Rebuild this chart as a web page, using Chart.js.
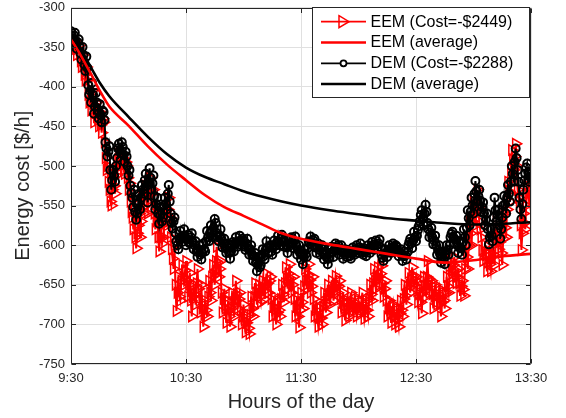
<!DOCTYPE html>
<html>
<head>
<meta charset="utf-8">
<script src="https://cdn.jsdelivr.net/npm/chart.js@4/dist/chart.umd.min.js"></script>
<style>
html,body{margin:0;padding:0;background:#fff;}
#wrap{width:566px;height:418px;position:relative;}
</style>
</head>
<body>
<div id="wrap"><canvas id="c" width="566" height="418"></canvas></div>
<script>
// ---- data (one value every half minute from 9:30 to 13:30) ----
const xTickLabels = ['9:30', '10:30', '11:30', '12:30', '13:30'];
const seriesNames = ['EEM (Cost=-$2449)', 'EEM (average)', 'DEM (Cost=-$2288)', 'DEM (average)'];

const eemCost = [
 -338,-345,-350,-344,-342,-352,-360,-352,-348,-358,-368,-375,-360,-372,-385,-392,-375,-392,-410,-420,
 -418,-430,-405,-422,-445,-432,-420,-435,-442,-450,-432,-448,-458,-440,-445,-470,-490,-505,-500,-520,
 -530,-545,-550,-530,-515,-525,-535,-512,-500,-492,-485,-495,-500,-485,-490,-505,-510,-495,-500,-515,
 -530,-522,-545,-558,-565,-580,-555,-590,-604,-585,-575,-560,-590,-570,-540,-552,-560,-535,-525,-545,
 -560,-535,-515,-530,-545,-535,-530,-560,-580,-570,-560,-590,-608,-590,-575,-598,-590,-570,-560,-572,
 -575,-555,-540,-565,-590,-605,-617,-630,-600,-650,-683,-660,-640,-665,-670,-645,-625,-640,-650,-632,
 -620,-645,-665,-650,-635,-670,-690,-665,-650,-662,-675,-648,-630,-655,-670,-685,-650,-680,-703,-688,
 -670,-682,-690,-665,-645,-660,-670,-640,-625,-638,-650,-620,-602,-622,-640,-630,-620,-660,-685,-668,
 -655,-680,-698,-682,-670,-690,-703,-680,-660,-675,-690,-665,-645,-662,-680,-668,-660,-682,-700,-690,
 -675,-695,-710,-698,-690,-705,-712,-688,-665,-680,-690,-665,-648,-660,-675,-660,-650,-665,-672,-655,
 -645,-658,-668,-650,-636,-648,-660,-645,-640,-668,-690,-678,-665,-688,-700,-685,-670,-682,-690,-668,
 -650,-662,-672,-648,-628,-642,-655,-636,-624,-642,-660,-650,-640,-668,-690,-678,-665,-690,-704,-682,
 -660,-672,-680,-652,-630,-645,-655,-638,-624,-644,-660,-652,-640,-668,-690,-682,-670,-690,-703,-692,
 -680,-692,-700,-678,-660,-675,-685,-664,-650,-664,-675,-658,-645,-660,-670,-652,-639,-650,-660,-652,
 -645,-668,-685,-672,-660,-680,-695,-682,-670,-682,-690,-674,-660,-675,-684,-672,-665,-680,-690,-678,
 -670,-680,-685,-670,-660,-680,-693,-682,-670,-682,-690,-668,-650,-662,-670,-648,-630,-645,-655,-640,
 -628,-640,-650,-636,-626,-648,-665,-655,-645,-670,-690,-680,-670,-686,-698,-684,-675,-690,-700,-690,
 -680,-694,-703,-686,-670,-682,-690,-668,-650,-664,-675,-652,-635,-650,-660,-642,-628,-640,-650,-645,
 -640,-658,-672,-662,-655,-672,-686,-660,-640,-652,-665,-640,-620,-642,-660,-650,-645,-662,-680,-665,
 -650,-664,-675,-662,-655,-674,-690,-672,-660,-670,-680,-660,-640,-652,-660,-638,-620,-632,-640,-625,
 -615,-632,-648,-640,-630,-648,-664,-652,-645,-656,-664,-630,-600,-615,-630,-600,-571,-585,-600,-570,
 -545,-560,-575,-550,-530,-552,-570,-580,-590,-606,-620,-608,-600,-618,-633,-622,-610,-624,-633,-615,
 -600,-612,-625,-598,-570,-588,-605,-596,-590,-610,-625,-592,-560,-578,-590,-555,-520,-532,-545,-510,
 -480,-492,-505,-488,-472,-500,-530,-540,-545,-575,-606,-585,-560,-572,-580,-550,-525,-535,-545,-530,
 -521
];

const demCost = [
 -330,-336,-342,-335,-332,-345,-352,-344,-340,-350,-358,-366,-350,-360,-372,-380,-362,-376,-398,-410,
 -405,-420,-395,-410,-434,-425,-408,-420,-430,-440,-422,-436,-445,-430,-432,-442,-470,-478,-488,-482,
 -475,-505,-530,-518,-505,-512,-520,-500,-490,-478,-472,-480,-484,-470,-476,-486,-495,-482,-488,-500,
 -512,-505,-525,-534,-540,-552,-530,-558,-568,-560,-548,-535,-555,-540,-524,-530,-535,-518,-510,-525,
 -546,-520,-503,-515,-530,-522,-512,-538,-555,-548,-540,-560,-573,-562,-552,-570,-565,-550,-540,-548,
 -555,-535,-524,-545,-560,-572,-579,-570,-565,-585,-595,-600,-605,-592,-582,-590,-596,-588,-580,-592,
 -600,-592,-587,-596,-598,-590,-585,-596,-605,-600,-595,-608,-615,-606,-600,-612,-618,-610,-598,-605,
 -608,-595,-582,-590,-595,-585,-575,-582,-590,-578,-567,-572,-585,-590,-595,-588,-580,-592,-603,-598,
 -592,-604,-610,-602,-598,-610,-617,-608,-600,-596,-608,-598,-590,-597,-602,-595,-588,-594,-600,-592,
 -595,-602,-606,-598,-592,-604,-612,-605,-600,-612,-620,-614,-610,-622,-633,-625,-615,-628,-625,-612,
 -605,-614,-618,-606,-595,-603,-610,-602,-600,-608,-612,-600,-594,-601,-605,-596,-588,-597,-600,-592,
 -587,-595,-602,-596,-592,-603,-610,-602,-598,-592,-590,-598,-604,-595,-589,-600,-612,-606,-600,-610,
 -618,-612,-624,-615,-605,-611,-615,-604,-595,-598,-589,-596,-600,-594,-592,-603,-610,-602,-598,-606,
 -612,-604,-600,-610,-618,-612,-608,-616,-624,-617,-610,-605,-602,-609,-615,-606,-598,-603,-606,-600,
 -612,-605,-600,-609,-617,-610,-605,-612,-615,-606,-608,-614,-617,-610,-603,-609,-612,-605,-600,-606,
 -610,-603,-598,-604,-608,-612,-604,-609,-614,-606,-600,-606,-610,-602,-596,-601,-606,-599,-594,-600,
 -604,-598,-593,-603,-612,-616,-620,-611,-605,-610,-615,-607,-600,-605,-610,-603,-598,-602,-606,-600,
 -602,-608,-614,-609,-605,-612,-620,-614,-608,-613,-618,-609,-600,-596,-592,-598,-604,-594,-583,-590,
 -595,-588,-581,-576,-570,-562,-556,-566,-575,-560,-549,-558,-572,-580,-590,-584,-578,-590,-599,-594,
 -588,-600,-612,-606,-600,-611,-622,-616,-610,-618,-624,-612,-600,-606,-612,-600,-590,-586,-583,-590,
 -598,-593,-588,-600,-610,-603,-595,-604,-612,-596,-580,-590,-600,-578,-556,-566,-575,-558,-540,-550,
 -560,-535,-519,-532,-545,-538,-530,-544,-558,-552,-546,-560,-575,-568,-560,-580,-599,-590,-580,-588,
 -595,-565,-540,-556,-570,-562,-555,-575,-592,-580,-565,-550,-538,-548,-560,-540,-524,-535,-545,-520,
 -500,-510,-520,-495,-478,-490,-505,-520,-540,-555,-567,-548,-530,-518,-510,-502,-497,-508,-520,-514,
 -510
];

const avgMinutes = [0, 5, 10, 15, 20, 30, 40, 50, 60, 70, 80, 90, 100, 110, 120, 135, 150, 165, 180, 195, 210, 225, 240];
const eemAverage = [-340,-360,-382,-405,-425,-449,-475,-498,-518,-537,-552,-563,-574,-585,-592,-599,-605,-611,-617,-622,-619,-614,-611];
const demAverage = [-335,-352,-374,-395,-412,-438,-463,-485,-502,-514,-523,-532,-539,-545,-550,-556,-561,-566,-569,-572,-574,-573,-571];

const yMin = -750, yMax = -300, yStep = 50;

// ---- chart ----
const FONT = "'Liberation Sans', Arial, Helvetica, sans-serif";
const AXIS_COLOR = '#262626';
Chart.defaults.font.family = FONT;

const toPts = arr => arr.map((v, i) => ({x: i / 2, y: v}));
const toAvg = arr => avgMinutes.map((m, i) => ({x: m, y: arr[i]}));

const boxPlugin = {
  id: 'matlabBox',
  afterDraw(chart) {
    const ctx = chart.ctx;
    const {left, right, top, bottom} = chart.chartArea;
    ctx.save();
    ctx.strokeStyle = AXIS_COLOR;
    ctx.lineWidth = 1;
    const L = Math.round(left) + 0.5, R = Math.round(right) - 0.5;
    const T = Math.round(top) + 0.5, B = Math.round(bottom) - 0.5;
    ctx.beginPath();
    ctx.rect(L, T, R - L, B - T);
    ctx.stroke();
    // inward ticks
    const tl = 4.5;
    ctx.beginPath();
    chart.scales.x.ticks.forEach(t => {
      const px = Math.round(chart.scales.x.getPixelForValue(t.value)) + 0.5;
      ctx.moveTo(px, B); ctx.lineTo(px, B - tl);
      ctx.moveTo(px, T); ctx.lineTo(px, T + tl);
    });
    chart.scales.y.ticks.forEach(t => {
      const py = Math.round(chart.scales.y.getPixelForValue(t.value)) + 0.5;
      ctx.moveTo(L, py); ctx.lineTo(L + tl, py);
      ctx.moveTo(R, py); ctx.lineTo(R - tl, py);
    });
    ctx.stroke();

    // legend
    const bx = 312.5, by = 7.5, bw = 217, bh = 90;
    ctx.fillStyle = '#ffffff';
    ctx.fillRect(bx, by, bw, bh);
    ctx.strokeStyle = AXIS_COLOR;
    ctx.lineWidth = 1;
    ctx.strokeRect(bx, by, bw, bh);
    const rows = [21.7, 42.5, 63.3, 84];
    const styles = [
      {color: '#ff0000', width: 1.8, marker: 'tri'},
      {color: '#ff0000', width: 2.6, marker: null},
      {color: '#000000', width: 1.8, marker: 'circ'},
      {color: '#000000', width: 2.6, marker: null}
    ];
    ctx.font = '16px ' + FONT;
    ctx.textBaseline = 'middle';
    ctx.textAlign = 'left';
    rows.forEach((ry, i) => {
      const s = styles[i];
      ctx.strokeStyle = s.color;
      ctx.lineWidth = s.width;
      ctx.beginPath();
      ctx.moveTo(321, ry); ctx.lineTo(366, ry);
      ctx.stroke();
      const cx = 343.5;
      if (s.marker === 'tri') {
        ctx.lineWidth = 1.5;
        ctx.beginPath();
        ctx.moveTo(cx - 4.5, ry - 6);
        ctx.lineTo(cx + 5.5, ry);
        ctx.lineTo(cx - 4.5, ry + 6);
        ctx.closePath();
        ctx.stroke();
      } else if (s.marker === 'circ') {
        ctx.lineWidth = 1.8;
        ctx.fillStyle = '#ffffff';
        ctx.beginPath();
        ctx.arc(cx, ry, 3, 0, Math.PI * 2);
        ctx.fill();
        ctx.stroke();
      }
      ctx.fillStyle = '#000000';
      ctx.fillText(seriesNames[i], 370.5, ry + 0.5);
    });
    ctx.restore();
  }
};

new Chart(document.getElementById('c'), {
  type: 'line',
  data: {
    datasets: [
      {
        label: seriesNames[0], data: toPts(eemCost), order: 4,
        borderColor: '#ff0000', borderWidth: 2,
        pointStyle: 'triangle', pointRotation: 90, pointRadius: 6,
        pointBorderColor: '#ff0000', pointBackgroundColor: 'rgba(0,0,0,0)', pointBorderWidth: 1.5,
        tension: 0
      },
      {
        label: seriesNames[1], data: toAvg(eemAverage), order: 2,
        borderColor: '#ff0000', borderWidth: 2.6, pointRadius: 0,
        cubicInterpolationMode: 'monotone'
      },
      {
        label: seriesNames[2], data: toPts(demCost), order: 3,
        borderColor: '#000000', borderWidth: 2,
        pointStyle: 'circle', pointRadius: 4,
        pointBorderColor: '#000000', pointBackgroundColor: 'rgba(0,0,0,0)', pointBorderWidth: 2,
        tension: 0
      },
      {
        label: seriesNames[3], data: toAvg(demAverage), order: 1,
        borderColor: '#000000', borderWidth: 2.6, pointRadius: 0,
        cubicInterpolationMode: 'monotone'
      }
    ]
  },
  options: {
    responsive: false,
    animation: false,
    devicePixelRatio: 1,
    layout: {padding: {top: 1, right: 35, bottom: 0, left: 0}},
    plugins: {legend: {display: false}, tooltip: {enabled: false}},
    scales: {
      x: {
        type: 'linear', min: 0, max: 240,
        afterFit(s) { s.height = 54; s.paddingLeft = 0; s.paddingRight = 0; },
        afterBuildTicks(s) { s.ticks = xTickLabels.map((_, i) => ({value: i * 60})); },
        ticks: {
          autoSkip: false, maxRotation: 0, padding: 7, color: AXIS_COLOR,
          font: {size: 13},
          callback: (v) => xTickLabels[Math.round(v / 60)]
        },
        grid: {color: '#e0e0e0', lineWidth: 1, drawTicks: false},
        border: {display: false},
        title: {display: true, text: 'Hours of the day', color: AXIS_COLOR, font: {size: 20, lineHeight: 1.2}, padding: {top: 0, bottom: 4}}
      },
      y: {
        type: 'linear', min: yMin, max: yMax,
        afterFit(s) { s.width = 71; s.paddingTop = 0; s.paddingBottom = 0; },
        ticks: {stepSize: yStep, padding: 6, color: AXIS_COLOR, font: {size: 13}},
        grid: {color: '#e0e0e0', lineWidth: 1, drawTicks: false},
        border: {display: false},
        title: {display: true, text: 'Energy cost [$/h]', color: AXIS_COLOR, font: {size: 20, lineHeight: 1.2}, padding: {top: 11, bottom: 0}}
      }
    }
  },
  plugins: [boxPlugin]
});
</script>
</body>
</html>
